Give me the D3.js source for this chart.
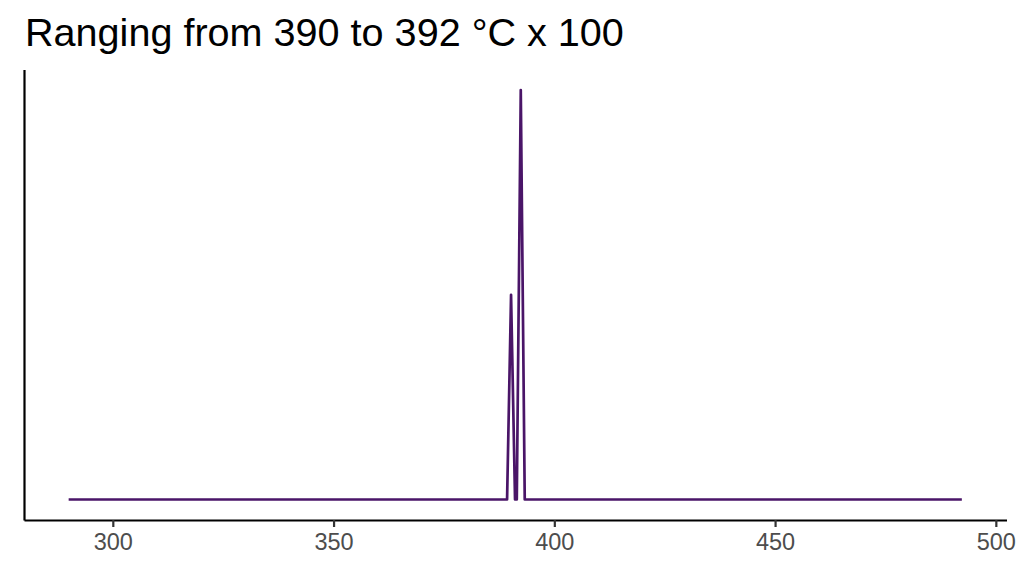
<!DOCTYPE html>
<html>
<head>
<meta charset="utf-8">
<script src="https://cdn.jsdelivr.net/npm/d3@7"></script>
<style>
  body { margin: 0; background: #fff; }
  text { font-family: "Liberation Sans", Arial, sans-serif; }
</style>
</head>
<body>
<svg id="chart"></svg>
<script>
// spectrum (temperature, relative intensity)
const temps = [290, 389.3, 390.2, 391.1, 391.5, 392.4, 393.3, 492.3];
const intensity = [0, 0, 0.5, 0, 0, 1, 0, 0];
const xTicks = [300, 350, 400, 450, 500];
const title = "Ranging from 390 to 392 \u00B0C x 100";

const width = 1024, height = 576;
const margin = { top: 69.5, right: 17.5, bottom: 56, left: 24 };

const svg = d3.select("#chart").attr("width", width).attr("height", height);

const data = temps.map((t, i) => ({ t: t, v: intensity[i] }));

// ggplot-style 5% expansion
const xExt = d3.extent(temps);
const xPad = (xExt[1] - xExt[0]) * 0.05;
const xScale = d3.scaleLinear()
  .domain([xExt[0] - xPad, xExt[1] + xPad])
  .range([margin.left, width - margin.right]);

const yExt = d3.extent(intensity);
const yPad = (yExt[1] - yExt[0]) * 0.05;
const yScale = d3.scaleLinear()
  .domain([yExt[0] - yPad, yExt[1] + yPad])
  .range([height - margin.bottom, margin.top]);

const line = d3.line()
  .x(d => xScale(d.t))
  .y(d => yScale(d.v));

svg.append("path")
  .datum(data)
  .attr("fill", "none")
  .attr("stroke", "#4a1568")
  .attr("stroke-width", 2.7)
  .attr("stroke-linejoin", "round")
  .attr("d", line);

// x axis
const xAxis = svg.append("g")
  .attr("transform", `translate(0, ${height - margin.bottom})`)
  .call(d3.axisBottom(xScale).tickValues(xTicks).tickSize(7).tickPadding(6).tickSizeOuter(0));
xAxis.select(".domain").attr("stroke", "#000").attr("stroke-width", 2.2);
xAxis.selectAll(".tick line").attr("stroke", "#333").attr("stroke-width", 2.2);
xAxis.selectAll(".tick text")
  .attr("fill", "#4d4d4d")
  .style("font-size", "23.5px");

// y axis (line only)
const yAxis = svg.append("g")
  .attr("transform", `translate(${margin.left}, 0)`)
  .call(d3.axisLeft(yScale).tickValues([]).tickSizeOuter(0));
yAxis.select(".domain").attr("stroke", "#000").attr("stroke-width", 2.2);

svg.append("text")
  .attr("x", 25)
  .attr("y", 46)
  .attr("fill", "#000")
  .style("font-size", "39.6px")
  .text(title);
</script>
</body>
</html>
